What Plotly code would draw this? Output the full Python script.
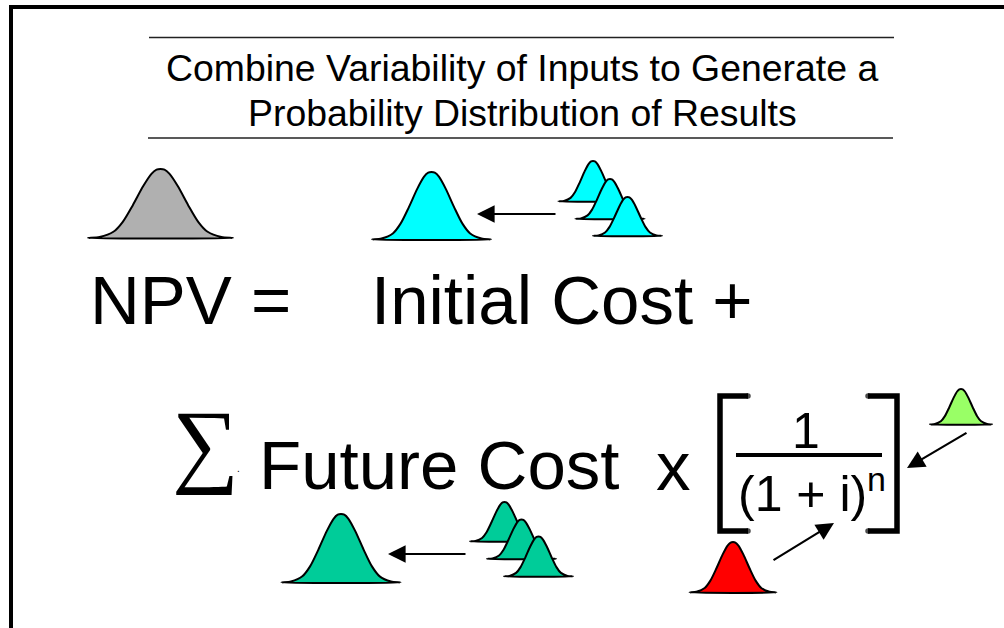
import plotly.graph_objects as go

# bell outline, scaled for each bell below
bell_u = [-1, -0.84, -0.65, -0.52, -0.38, -0.24, -0.125, -0.055, 0, 0.055, 0.125, 0.24, 0.38, 0.52, 0.65, 0.84, 1, -1]
bell_v = [0, 0.015, 0.09, 0.235, 0.48, 0.75, 0.93, 0.99, 1, 0.99, 0.93, 0.75, 0.48, 0.235, 0.09, 0.015, 0, 0]

# drawing order matters, the small bells overlap
bell_center = [160.5, 431.5, 593, 610, 627.5, 341, 504.5, 521.5, 538.5, 733, 961]
bell_halfw = [72.5, 59.5, 34.5, 34.5, 34.5, 59.5, 34.5, 34.5, 34.5, 43.5, 31]
bell_base = [238, 239.5, 201.5, 219, 236, 582.5, 541.5, 559, 576.5, 592.5, 424.5]
bell_top = [169, 172, 161, 179, 197, 514, 502, 519.5, 536.5, 542, 389]
bell_color = ["#B0B0B0", "#00FFFF", "#00FFFF", "#00FFFF", "#00FFFF",
              "#00CC99", "#00CC99", "#00CC99", "#00CC99", "#FF0000", "#99FF66"]

# text, x, y, size, anchor
labels = ["Combine Variability of Inputs to Generate a", "Probability Distribution of Results",
          "NPV =", "Initial Cost +", "Future Cost", "x", "1", "(1 + i)", "n", "."]
label_x = [522, 522, 88, 369, 257, 654, 806, 736, 865, 235]
label_y = [68, 113, 300, 300, 465, 466, 431, 494, 479, 468]
label_size = [37.4, 37.4, 69, 69, 69, 69, 50, 50, 34, 10]

# arrows: tail x, tail y, head x, head y
arrow_x0 = [557, 467, 968, 772]
arrow_y0 = [214, 554, 432, 561]
arrow_x1 = [477, 388, 907, 834]
arrow_y1 = [214, 554, 468, 523]

fig = go.Figure()

for cx, hw, base, top, col in zip(bell_center, bell_halfw, bell_base, bell_top, bell_color):
    xs = [cx + hw * u for u in bell_u]
    ys = [base - (base - top) * v for v in bell_v]
    fig.add_trace(go.Scatter(x=xs, y=ys, mode="lines", fill="toself", fillcolor=col,
                             line=dict(color="black", width=2, shape="spline", smoothing=0.8),
                             hoverinfo="skip", showlegend=False))

# brackets, the markers round off the ends
fig.add_trace(go.Scatter(x=[748, 720, 720, 748], y=[396, 396, 531, 531], mode="lines+markers",
                         line=dict(color="black", width=5.5),
                         marker=dict(color="black", size=[5.5, 0, 0, 5.5], line=dict(width=0)),
                         hoverinfo="skip", showlegend=False))
fig.add_trace(go.Scatter(x=[868, 897, 897, 868], y=[396, 396, 531, 531], mode="lines+markers",
                         line=dict(color="black", width=5.5),
                         marker=dict(color="black", size=[5.5, 0, 0, 5.5], line=dict(width=0)),
                         hoverinfo="skip", showlegend=False))

shapes = [
    dict(type="line", x0=11, x1=11, y0=7, y1=628, line=dict(color="black", width=4)),
    dict(type="line", x0=9, x1=1004, y0=7, y1=7, line=dict(color="black", width=4)),
    dict(type="line", x0=149, x1=894, y0=37.5, y1=37.5, line=dict(color="#222222", width=1.3)),
    dict(type="line", x0=148, x1=893, y0=138, y1=138, line=dict(color="#222222", width=1.3)),
    dict(type="line", x0=736, x1=882, y0=455, y1=455, line=dict(color="black", width=4)),
]

annotations = []
for i, t in enumerate(labels):
    annotations.append(dict(x=label_x[i], y=label_y[i], text=t, showarrow=False,
                            xanchor="center" if i in (0, 1, 6) else "left", yanchor="middle",
                            font=dict(family="Liberation Sans", size=label_size[i], color="black")))
annotations.append(dict(x=205, y=443, text="∑", showarrow=False, xanchor="center", yanchor="middle",
                        font=dict(family="Liberation Serif", size=94, color="black")))

for x0, y0, x1, y1 in zip(arrow_x0, arrow_y0, arrow_x1, arrow_y1):
    annotations.append(dict(x=x1, y=y1, ax=x0, ay=y0, axref="x", ayref="y", xref="x", yref="y",
                            text="", showarrow=True, arrowhead=2, arrowsize=1.6, arrowwidth=2.2,
                            arrowcolor="black"))

fig.update_layout(
    width=1004, height=628, autosize=False,
    margin=dict(l=0, r=0, t=0, b=0),
    paper_bgcolor="white", plot_bgcolor="white",
    xaxis=dict(range=[0, 1004], visible=False, fixedrange=True),
    yaxis=dict(range=[628, 0], visible=False, fixedrange=True),
    shapes=shapes, annotations=annotations,
)
fig.write_html("out.html", config=dict(displayModeBar=False),
               post_script="document.body.style.margin='0';document.body.style.overflow='hidden';")
